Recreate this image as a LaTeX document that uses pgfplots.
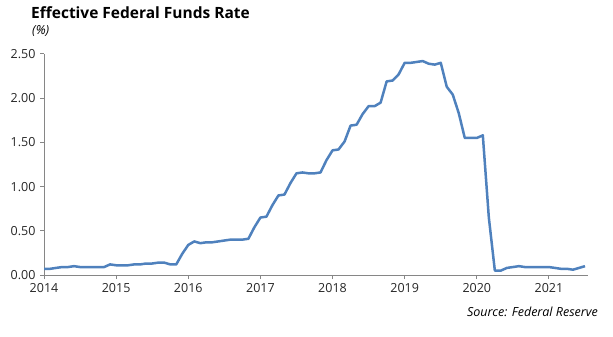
\documentclass[border=0pt]{standalone}
\usepackage{fontspec}
\setmainfont{Open Sans}
\newfontfamily\titlefont{Open Sans}
\usepackage{pgfplots}
\pgfplotsset{compat=1.18}
\definecolor{lineblue}{RGB}{79,129,189}
\definecolor{axgray}{RGB}{134,134,134}
\begin{document}
\begin{tikzpicture}[x=1bp,y=1bp]
\path[use as bounding box] (0,0) rectangle (613,336);
\node[anchor=base west, inner sep=0pt, font=\titlefont\bfseries\fontsize{15.5bp}{18bp}\selectfont] at (31,318) {Effective Federal Funds Rate};
\node[anchor=base west, inner sep=0pt, font=\itshape\fontsize{12.5bp}{15bp}\selectfont] at (32,302) {(\%)};
\node[anchor=base east, inner sep=0pt, font=\itshape\fontsize{12.5bp}{15bp}\selectfont] at (598,20) {Source: Federal Reserve};
\begin{axis}[
  at={(44bp,61bp)}, anchor=south west,
  scale only axis, width=544bp, height=221bp,
  xmin=0, xmax=90.5, ymin=0, ymax=2.5,
  axis lines=left, axis line style={draw=axgray, line width=1bp, -},
  xtick={0,12,24,36,48,60,72,84},
  xticklabels={2014,2015,2016,2017,2018,2019,2020,2021},
  ytick={0,0.5,1,1.5,2,2.5},
  yticklabel style={/pgf/number format/fixed, /pgf/number format/fixed zerofill, /pgf/number format/precision=2, xshift=-1bp},
  /pgf/number format/assume math mode=true,
  tick style={draw=axgray, line width=1bp},
  tick align=outside, major tick length=4bp,
  ticklabel style={font=\fontsize{12.5bp}{15bp}\selectfont, text=black!85},
  xticklabel style={yshift=-1bp},
  clip=false,
]
\addplot[lineblue, line width=2.5bp, line join=round, mark=none] coordinates {
(0,0.07)(1,0.07)(2,0.08)(3,0.09)(4,0.09)(5,0.10)(6,0.09)(7,0.09)(8,0.09)(9,0.09)(10,0.09)(11,0.12)
(12,0.11)(13,0.11)(14,0.11)(15,0.12)(16,0.12)(17,0.13)(18,0.13)(19,0.14)(20,0.14)(21,0.12)(22,0.12)(23,0.24)
(24,0.34)(25,0.38)(26,0.36)(27,0.37)(28,0.37)(29,0.38)(30,0.39)(31,0.40)(32,0.40)(33,0.40)(34,0.41)(35,0.54)
(36,0.65)(37,0.66)(38,0.79)(39,0.90)(40,0.91)(41,1.04)(42,1.15)(43,1.16)(44,1.15)(45,1.15)(46,1.16)(47,1.30)
(48,1.41)(49,1.42)(50,1.51)(51,1.69)(52,1.70)(53,1.82)(54,1.91)(55,1.91)(56,1.95)(57,2.19)(58,2.20)(59,2.27)
(60,2.40)(61,2.40)(62,2.41)(63,2.42)(64,2.39)(65,2.38)(66,2.40)(67,2.13)(68,2.04)(69,1.83)(70,1.55)(71,1.55)
(72,1.55)(73,1.58)(74,0.65)(75,0.05)(76,0.05)(77,0.08)(78,0.09)(79,0.10)(80,0.09)(81,0.09)(82,0.09)(83,0.09)
(84,0.09)(85,0.08)(86,0.07)(87,0.07)(88,0.06)(89,0.08)(90,0.10)
};
\end{axis}
\end{tikzpicture}
\end{document}
